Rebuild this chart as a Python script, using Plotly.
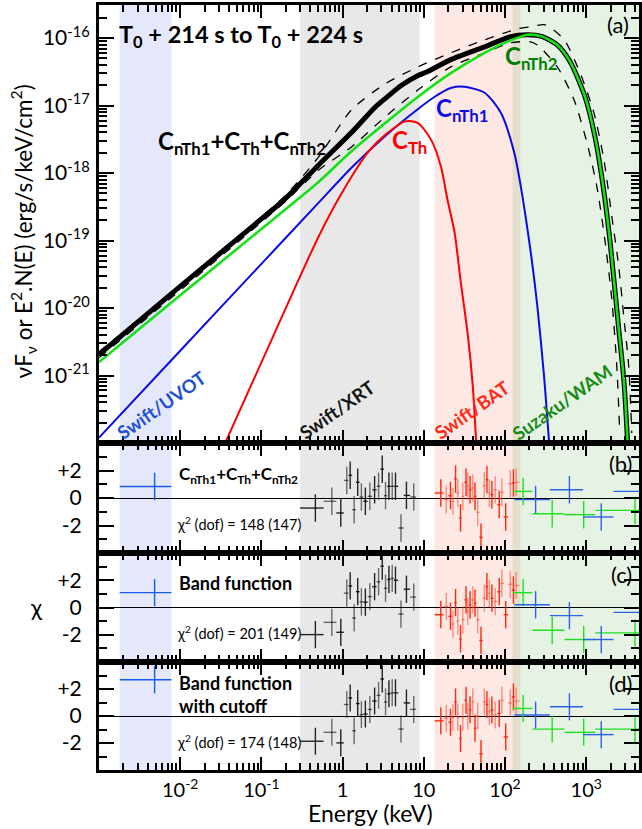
import numpy as np
import plotly.graph_objects as go

# ---------------- Panel (a): model spectra (E in keV, nuFnu in erg/s/keV/cm2) ----------------
total_E = [0.001, 0.01, 0.1, 0.189, 0.507, 1.285, 2.53, 3.35, 5.26, 8.49, 11.2, 21.5, 56.1, 117, 190,
           288, 440, 634, 966, 1281, 1606, 1955, 2518, 2904, 3250]
total_F = [2.04e-21, 2.09e-20, 2.09e-19, 3.98e-19, 1.32e-18, 3.98e-18, 9.5e-18, 1.27e-17, 1.98e-17,
           2.79e-17, 3.2e-17, 4.79e-17, 7.41e-17, 1.05e-16, 1.12e-16, 1.05e-16, 7.9e-17, 4.45e-17,
           1.35e-17, 3.45e-18, 6.7e-19, 1.03e-19, 4.8e-21, 8.7e-22, 9.3e-23]

upper_E = [0.001, 0.189, 0.507, 1.285, 3.35, 8.49, 21.5, 56.1, 142, 205, 313, 535, 840, 1245, 1652,
           2070, 2518, 2904, 3342, 3637]
upper_F = [2.24e-21, 4.44e-19, 1.74e-18, 8.63e-18, 2.1e-17, 3.74e-17, 6.04e-17, 9.4e-17, 1.37e-16,
           1.47e-16, 1.57e-16, 9.4e-17, 3.05e-17, 7.8e-18, 1.57e-18, 2.24e-19, 4.07e-20, 7.4e-21,
           1.35e-21, 1.41e-22]

lower_E = [0.001, 0.189, 0.507, 1.285, 3.35, 8.49, 21.5, 56.1, 117, 205, 250, 440, 709, 1023, 1355,
           1698, 2070, 2383, 2588]
lower_F = [1.83e-21, 3.62e-19, 1.11e-18, 2.44e-18, 6.81e-18, 1.71e-17, 3.74e-17, 6.04e-17, 8.5e-17,
           8.8e-17, 7.9e-17, 3.74e-17, 1.21e-17, 2.8e-18, 6.25e-19, 1.02e-19, 1.32e-20, 1.35e-21,
           1.41e-22]

nth2_E = [0.001, 0.01, 0.1, 0.273, 0.507, 1.285, 3.35, 8.49, 21.5, 56.1, 99, 190, 288, 440, 634, 966,
          1281, 1606, 1955, 2518, 2904, 3250]
nth2_F = [1.58e-21, 1.55e-20, 1.48e-19, 3.98e-19, 7.4e-19, 2.1e-18, 5.5e-18, 1.35e-17, 3.02e-17,
          6.03e-17, 8.5e-17, 1.12e-16, 1.05e-16, 7.9e-17, 4.45e-17, 1.35e-17, 3.45e-18, 6.7e-19,
          1.03e-19, 4.8e-21, 8.7e-22, 9.3e-23]

nth1_E = [0.001, 0.01, 0.1, 0.507, 1.285, 3.35, 8.49, 13.6, 21.5, 31.6, 56.1, 88.9, 130, 153, 207,
          250, 302, 348]
nth1_F = [1.2e-22, 2.33e-21, 4.51e-20, 3.64e-19, 1.2e-18, 3.55e-18, 8.9e-18, 1.35e-17, 1.82e-17,
          1.9e-17, 1.55e-17, 7.8e-18, 2.0e-18, 7.4e-19, 6.8e-20, 1.07e-20, 1.0e-21, 1.07e-22]

th_E = [0.0358, 0.135, 0.507, 1.026, 2.07, 3.35, 5.89, 8.49, 12.3, 16.3, 19.6, 24.0, 28.3, 34.8,
        40.0, 44.2]
th_F = [1.0e-22, 3.5e-21, 1.15e-19, 5.6e-19, 2.06e-18, 3.68e-18, 5.83e-18, 5.5e-18, 3.1e-18,
        1.23e-18, 3.98e-19, 1.29e-19, 2.6e-20, 4.0e-21, 7.2e-22, 1.0e-22]

# ---------------- instrument bands ----------------
band_names = ["Swift/UVOT", "Swift/XRT", "Swift/BAT", "Suzaku/WAM"]
band_lo = [0.0018, 0.3, 13.6, 124]
band_hi = [0.0078, 8.9, 155, 5000]

# ---------------- Residuals (chi) ----------------
uvot_E = [0.00484]
uvot_lo = [0.0018]
uvot_hi = [0.0078]
uvot_chi = {"b": [0.84], "c": [1.09], "d": [2.69]}

xrt_E = [0.462, 0.737, 0.950, 1.126, 1.239, 1.387, 1.535, 1.703, 1.906, 2.165, 2.478, 2.774, 3.078,
         3.379, 3.719, 4.081, 4.479, 5.23, 6.11, 7.52]
xrt_chi = {
    "b": [-0.73, -0.24, -1.09, 1.28, 1.65, -0.85, 1.14, 0.07, -0.24, 0.12, 0.6, 0.85, 2.1, 0.17, 0.85,
          0.85, 0.85, -2.18, 0.19, 0.07],
    "c": [-1.99, -1.09, -1.82, 1.05, 1.58, -0.77, 1.16, 0.41, 0.39, 0.80, 1.53, 1.89, 3.03, 1.41, 2.06,
          2.14, 2.0, -0.48, 1.34, 0.76],
    "d": [-1.87, -1.21, -1.99, 0.85, 1.33, -1.09, 0.92, 0.10, 0.15, 0.49, 1.11, 1.53, 2.74, 1.04, 1.65,
          1.72, 1.72, -0.97, 0.97, 0.49],
}

bat_E = [16.2, 18.9, 21.3, 22.8, 24.6, 26.2, 28.3, 30.2, 33.1, 34.8, 37.1, 40.0, 42.7, 46.1, 50.6,
         55.6, 59.9, 64.1, 68.9, 75.9, 84.9, 91.4, 102, 116, 127, 137]
bat_chi = {
    "b": [0.36, -0.1, 0.17, -0.24, 1.38, 0.36, -1.45, 0.12, 1.14, 0.85, 0.6, 0.73, 0.12, -1.04, -2.86,
          0.9, 1.33, 0.36, 0.24, 0.6, -0.48, 0.41, -1.38, 1.04, 1.09, 1.14],
    "c": [-0.53, 0.07, -0.65, -1.21, 0.36, -1.0, -2.3, -0.9, 0.56, -0.29, 0.19, 0.56, 0.32, -0.9, -2.42,
          0.68, 1.53, 1.04, 0.68, 0.44, 1.16, 1.77, -0.53, 1.7, 1.28, 1.62],
    "d": [-0.36, -0.17, -0.46, -0.1, 1.04, -0.1, -1.67, -0.1, 1.16, 0.0, 0.46, 1.04, -0.9, 0.0, -2.79,
          1.04, 0.85, 0.32, 0.44, 0.07, 0.19, 1.16, -1.55, 0.97, 1.41, 1.11],
}

wamg_E = [167, 381, 931, 3990]
wamg_lo = [124, 217, 539, 1291]
wamg_hi = [217, 539, 1291, 12300]
wamg_chi = {"b": [0.48, -1.14, -1.21, -0.9], "c": [1.09, -1.67, -2.35, -1.86], "d": [0.56, -0.97, -1.21, -0.97]}

wamb_E = [238, 621, 1531, 5000]
wamb_lo = [130, 357, 914, 2172]
wamb_hi = [357, 914, 2172, 11500]
wamb_chi = {"b": [-0.12, 0.6, -1.38, 0.48], "c": [0.2, -0.6, -2.35, -0.36], "d": [0.07, 0.68, -1.38, 0.49]}

fit_names = {"b": "<b>C<sub>nTh1</sub>+C<sub>Th</sub>+C<sub>nTh2</sub></b>",
             "c": "<b>Band function</b>",
             "d": "<b>Band function<br>with cutoff</b>"}
fit_chi2 = {"b": "χ<sup>2</sup> (dof) = 148 (147)",
            "c": "χ<sup>2</sup> (dof) = 201 (149)",
            "d": "χ<sup>2</sup> (dof) = 174 (148)"}

x_tickvals = [0.01, 0.1, 1, 10, 100, 1000]
x_ticktext = ["10<sup>-2</sup>", "10<sup>-1</sup>", "1", "10", "10<sup>2</sup>", "10<sup>3</sup>"]
y_tickvals = [1e-21, 1e-20, 1e-19, 1e-18, 1e-17, 1e-16]
y_ticktext = ["10<sup>-21</sup>", "10<sup>-20</sup>", "10<sup>-19</sup>", "10<sup>-18</sup>",
              "10<sup>-17</sup>", "10<sup>-16</sup>"]

# ---------------- layout geometry ----------------
W, H = 642, 829
L, R, T, B = 99, 0, 5, 59
PW, PH = W - L - R, H - T - B


def px(x):
    return (x - L) / PW


def py(y):
    return 1 - (y - T) / PH


FONT = "Lato, 'Open Sans', sans-serif"
fig = go.Figure()

band_fill = ["rgb(229,232,250)", "rgb(232,232,232)", "rgba(242,102,75,0.15)", "rgba(88,168,75,0.15)"]
for lo, hi, col in zip(band_lo, band_hi, band_fill):
    fig.add_shape(type="rect", xref="x", yref="paper", x0=lo, x1=hi, y0=0, y1=1,
                  fillcolor=col, line_width=0, layer="below")

# model curves
SM = 0.7
fig.add_trace(go.Scatter(x=upper_E, y=upper_F, mode="lines", line=dict(color="black", width=1.3, dash="dash", shape="spline", smoothing=SM), xaxis="x", yaxis="y"))
fig.add_trace(go.Scatter(x=lower_E, y=lower_F, mode="lines", line=dict(color="black", width=1.3, dash="dash", shape="spline", smoothing=SM), xaxis="x", yaxis="y"))
fig.add_trace(go.Scatter(x=total_E, y=total_F, mode="lines", line=dict(color="black", width=5, shape="spline", smoothing=SM), xaxis="x", yaxis="y"))
fig.add_trace(go.Scatter(x=nth1_E, y=nth1_F, mode="lines", line=dict(color="rgb(10,10,230)", width=2, shape="spline", smoothing=SM), xaxis="x", yaxis="y"))
fig.add_trace(go.Scatter(x=th_E, y=th_F, mode="lines", line=dict(color="rgb(255,0,0)", width=2, shape="spline", smoothing=SM), xaxis="x", yaxis="y"))
fig.add_trace(go.Scatter(x=nth2_E, y=nth2_F, mode="lines", line=dict(color="rgb(20,225,20)", width=2.6, shape="spline", smoothing=SM), xaxis="x", yaxis="y"))


def edges(E, first_lo, last_hi):
    E = np.asarray(E, float)
    mids = np.sqrt(E[:-1] * E[1:])
    return np.r_[first_lo, mids], np.r_[mids, last_hi]


def add_res(E, chi, lo, hi, color, xa, ya):
    E = np.asarray(E, float)
    lo = np.asarray(lo, float)
    hi = np.asarray(hi, float)
    fig.add_trace(go.Scatter(
        x=E, y=chi, mode="markers", marker=dict(size=1, color=color),
        error_x=dict(type="data", symmetric=False, array=hi - E, arrayminus=E - lo,
                     color=color, thickness=1.4, width=0),
        error_y=dict(type="data", array=[1.0] * len(E), color=color, thickness=1.4, width=0),
        xaxis=xa, yaxis=ya))


xrt_lo, xrt_hi = edges(xrt_E, 0.30, 8.0)
bat_lo, bat_hi = edges(bat_E, 13.6, 150)
xrt_E_a = np.asarray(xrt_E)
bat_E_a = np.asarray(bat_E)

for key, xa, ya in [("b", "x2", "y2"), ("c", "x3", "y3"), ("d", "x4", "y4")]:
    add_res(uvot_E, uvot_chi[key], uvot_lo, uvot_hi, "rgb(20,90,235)", xa, ya)
    xc = np.asarray(xrt_chi[key])
    for sl, col in [(slice(0, None, 2), "rgba(0,0,0,0.85)"), (slice(1, None, 2), "rgba(0,0,0,0.55)")]:
        add_res(xrt_E_a[sl], xc[sl], xrt_lo[sl], xrt_hi[sl], col, xa, ya)
    bc = np.asarray(bat_chi[key])
    for sl, col in [(slice(0, None, 2), "rgb(255,40,10)"), (slice(1, None, 2), "rgba(255,80,60,0.6)")]:
        add_res(bat_E_a[sl], bc[sl], bat_lo[sl], bat_hi[sl], col, xa, ya)
    add_res(wamg_E, wamg_chi[key], wamg_lo, wamg_hi, "rgb(30,225,30)", xa, ya)
    add_res(wamb_E, wamb_chi[key], wamb_lo, wamb_hi, "rgb(40,100,235)", xa, ya)

# ---------------- axes ----------------
x_minor = [k * 10.0 ** p for p in range(-3, 4) for k in range(2, 10) if k * 10.0 ** p < 4500]
y_minor = [k * 10.0 ** p for p in range(-22, -15) for k in range(2, 10) if k * 10.0 ** p < 3.1e-16]

dom_a = [py(443), 1]
dom_b = [py(553), py(443)]
dom_c = [py(662), py(553)]
dom_d = [0, py(662)]

tickfont = dict(family=FONT, size=21, color="black")
xtickfont = dict(family=FONT, size=20, color="black")


def xaxis(anchor, labels):
    return dict(type="log", range=[-3.0, 3.65], anchor=anchor, domain=[0, 1],
                showline=True, linewidth=3, linecolor="black", mirror="ticks",
                ticks="inside", ticklen=13, tickwidth=2, tickcolor="black",
                tickmode="array", tickvals=x_tickvals, ticktext=x_ticktext,
                showticklabels=labels, tickfont=xtickfont, ticklabelstandoff=0,
                minor=dict(tickmode="array", tickvals=x_minor, ticks="inside", ticklen=7,
                           tickwidth=1.5, tickcolor="black", showgrid=False),
                showgrid=False, zeroline=False)


def resy(anchor, dom):
    return dict(range=[-4, 4], domain=dom, anchor=anchor,
                showline=True, linewidth=3, linecolor="black", mirror="ticks",
                ticks="inside", ticklen=15, tickwidth=2, tickcolor="black",
                tickmode="array", tickvals=[-2, 0, 2], ticktext=["-2", "0", "+2"],
                tickfont=tickfont, ticklabelstandoff=10,
                minor=dict(tickmode="array", tickvals=[-3, -1, 1, 3], ticks="inside", ticklen=8,
                           tickwidth=1.5, tickcolor="black", showgrid=False),
                showgrid=False, zeroline=True, zerolinecolor="black", zerolinewidth=1.4)


layout = dict(
    width=W, height=H, autosize=False,
    margin=dict(l=L, r=R, t=T, b=B, pad=0),
    paper_bgcolor="white", plot_bgcolor="white",
    showlegend=False,
    font=dict(family=FONT, size=20, color="black"),
    xaxis=xaxis("y", False),
    xaxis2=xaxis("y2", False),
    xaxis3=xaxis("y3", False),
    xaxis4=xaxis("y4", True),
    yaxis=dict(type="log", range=[-22.0, -15.51], domain=dom_a, anchor="x",
               showline=True, linewidth=3, linecolor="black", mirror="ticks",
               ticks="inside", ticklen=15, tickwidth=2, tickcolor="black",
               tickmode="array", tickvals=y_tickvals, ticktext=y_ticktext, tickfont=tickfont,
               ticklabelstandoff=2,
               minor=dict(tickmode="array", tickvals=y_minor, ticks="inside", ticklen=8,
                          tickwidth=1.5, tickcolor="black", showgrid=False),
               showgrid=False, zeroline=False),
    yaxis2=resy("x2", dom_b),
    yaxis3=resy("x3", dom_c),
    yaxis4=resy("x4", dom_d),
)
fig.update_layout(**layout)
fig.update_xaxes(matches="x")

ann = []


def A(text, x, y, size=20, color="black", xanchor="center", angle=0, align="left", yanchor="middle"):
    ann.append(dict(text=text, x=px(x), y=py(y), xref="paper", yref="paper", showarrow=False,
                    xanchor=xanchor, yanchor=yanchor, textangle=angle, align=align,
                    font=dict(family=FONT, size=size, color=color)))


A("<b>T<sub>0</sub> + 214 s to T<sub>0</sub> + 224 s</b>", 117, 36, size=23.5, xanchor="left")
A("<b>C<sub>nTh1</sub>+C<sub>Th</sub>+C<sub>nTh2</sub></b>", 156, 142, size=24, xanchor="left")
A("<b>C<sub>Th</sub></b>", 392, 141, size=24, color="rgb(255,0,0)", xanchor="left")
A("<b>C<sub>nTh1</sub></b>", 436, 110, size=24, color="rgb(10,10,230)", xanchor="left")
A("<b>C<sub>nTh2</sub></b>", 505, 58, size=24, color="rgb(0,128,0)", xanchor="left")

A("<b>Swift/UVOT</b>", 162, 405, size=18.5, color="rgb(30,80,210)", angle=-35)
A("<b>Swift/XRT</b>", 338, 410, size=18.5, color="rgb(20,20,20)", angle=-35)
A("<b>Swift/BAT</b>", 474, 410, size=18.5, color="rgb(255,40,20)", angle=-35)
A("<b>Suzaku/WAM</b>", 565, 402, size=18.5, color="rgb(20,140,20)", angle=-35)

A("(a)", 621, 24, size=22)
A("(b)", 623, 463, size=22)
A("(c)", 624, 574, size=22)
A("(d)", 623, 683, size=22)

A(fit_names["b"], 177, 475, size=17, xanchor="left")
A(fit_chi2["b"], 175, 523, size=14.5, xanchor="left")
A(fit_names["c"], 177, 583, size=18, xanchor="left")
A(fit_chi2["c"], 175, 632, size=14.5, xanchor="left")
A(fit_names["d"], 177, 694, size=18, xanchor="left")
A(fit_chi2["d"], 175, 741, size=14.5, xanchor="left")

A("νF<sub>ν</sub> or E<sup>2</sup>.N(E) (erg/s/keV/cm<sup>2</sup>)", 22, 231, size=22.5, angle=-90)
A("χ", 36, 607, size=23)
A("Energy (keV)", 372, 829, size=23, yanchor="bottom")

fig.update_layout(annotations=ann)
fig.write_html("out.html")
